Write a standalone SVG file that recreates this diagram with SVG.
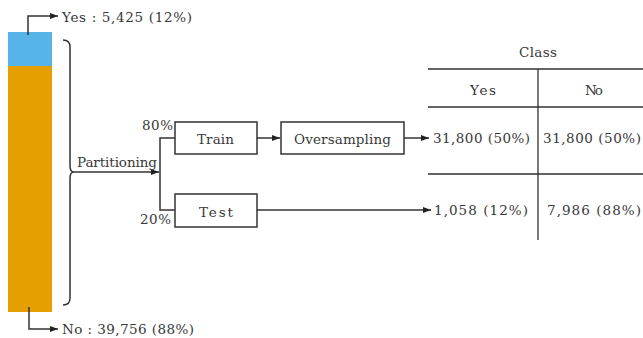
<svg xmlns="http://www.w3.org/2000/svg" width="643" height="338" viewBox="0 0 643 338">
<defs>
<style>
text{font-family:"DejaVu Serif","Liberation Serif",serif;font-size:13.5px;fill:#383838}
.ln{fill:none;stroke:#333;stroke-width:1.5}
.bx{fill:#fff;stroke:#333;stroke-width:1.5}
</style>
<marker id="ah" viewBox="0 0 8 6" refX="8" refY="3" markerWidth="8" markerHeight="6" markerUnits="userSpaceOnUse" orient="auto">
<path d="M0,0 L8,3 L0,6 Z" fill="#222"/>
</marker>
</defs>
<rect width="643" height="338" fill="#fff"/>
<g id="bar">
<rect x="8" y="32" width="44" height="34" fill="#56b4e9"/>
<rect x="8" y="66" width="44" height="246" fill="#e69f00"/>
</g>
<g id="connectors">
<path class="ln" d="M28,35 L28,16 L58,16" marker-end="url(#ah)"/>
<path class="ln" d="M29,307 L29,329 L58,329" marker-end="url(#ah)"/>
<path class="ln" d="M63,40 Q70,40 70,47 L70,166 Q70,172 74,172 Q70,172 70,178 L70,298 Q70,305 63,305"/>
<path class="ln" d="M74,172 L159,172" marker-end="url(#ah)"/>
<path class="ln" d="M175,138 L160,138 L160,210 L175,210"/>
<path class="ln" d="M257,138 L280,138" marker-end="url(#ah)"/>
<path class="ln" d="M404,138 L429,138" marker-end="url(#ah)"/>
<path class="ln" d="M257,210 L431,210" marker-end="url(#ah)"/>
</g>
<g id="yes-label"><text x="62" y="22" textLength="130">Yes : 5,425 (12%)</text></g>
<g id="no-label"><text x="62" y="334" textLength="132">No : 39,756 (88%)</text></g>
<g id="partitioning"><text x="77" y="167" textLength="80">Partitioning</text></g>
<g id="pct80"><text x="142" y="130" textLength="31">80%</text></g>
<g id="pct20"><text x="140" y="224" textLength="31">20%</text></g>
<g id="train">
<rect class="bx" x="175" y="122" width="82" height="32"/>
<text x="197" y="144" textLength="37">Train</text>
</g>
<g id="test">
<rect class="bx" x="175" y="194" width="82" height="33"/>
<text x="199" y="217" textLength="34">Test</text>
</g>
<g id="oversampling">
<rect class="bx" x="281" y="122" width="123" height="32"/>
<text x="294" y="144" textLength="97">Oversampling</text>
</g>
<g id="table">
<path class="ln" d="M428,69 L643,69 M428,107 L643,107 M428,174 L643,174 M538,69 L538,240" style="stroke-width:1.3"/>
<text x="519" y="57" textLength="38">Class</text>
<text x="470" y="95" textLength="26">Yes</text>
<text x="585" y="95" textLength="18">No</text>
<text x="433" y="143" textLength="97">31,800 (50%)</text>
<text x="543" y="143" textLength="98">31,800 (50%)</text>
<text x="434" y="215" textLength="94">1,058 (12%)</text>
<text x="547" y="215" textLength="94">7,986 (88%)</text>
</g>
</svg>
